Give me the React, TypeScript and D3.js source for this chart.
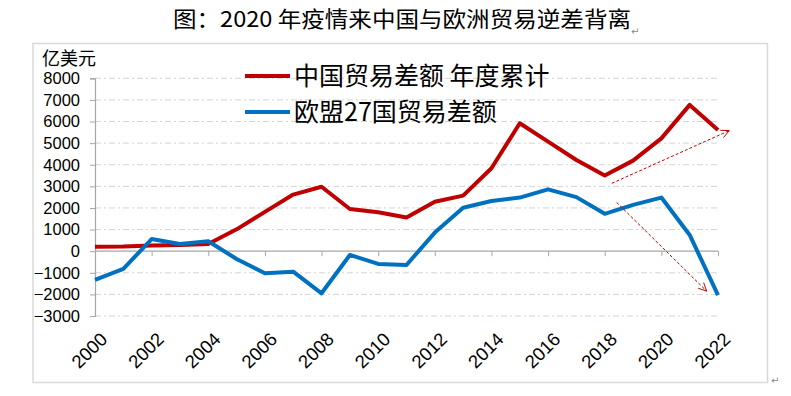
import { useEffect, useRef } from "react";
import * as d3 from "d3";

const years = d3.range(2000, 2023);
const chinaSeries = [
  210, 220, 260, 290, 330, 1010, 1820, 2620, 2980, 1950, 1800, 1560, 2290,
  2570, 3840, 5920, 5070, 4220, 3500, 4190, 5220, 6770, 5610,
];
const euSeries = [
  -1330, -820, 560, 330, 460, -360, -1020, -950, -1950, -175, -590, -640, 860,
  2010, 2320, 2480, 2860, 2500, 1730, 2140, 2480, 750, -2030,
];
const yTicks = [8000, 7000, 6000, 5000, 4000, 3000, 2000, 1000, 0, -1000, -2000, -3000];
const xTickYears = d3.range(2000, 2023, 2);
const legendNames = ["中国贸易差额 年度累计", "欧盟27国贸易差额"];
// arrows drawn in data space: [year, value] -> [year, value]
const arrows = [
  [[2018.25, 3140], [2022.4, 5580]],
  [[2018.42, 2260], [2021.6, -1850]],
];

const W = 791;
const H = 396;

export default function App() {
  const svgRef = useRef<SVGSVGElement>(null);

  useEffect(() => {
    if (!svgRef.current) return;
    const svg = d3.select(svgRef.current);
    svg.selectAll("*").remove();

    const x = d3.scaleLinear().domain([2000, 2022]).range([95, 718]);
    const y = d3.scaleLinear().domain([-3000, 8000]).range([316, 78.3]);

    svg.append("rect").attr("width", W).attr("height", H).attr("fill", "#fff");

    // title
    svg
      .append("text")
      .attr("x", 173)
      .attr("y", 27)
      .attr("textLength", 458)
      .attr("lengthAdjust", "spacingAndGlyphs")
      .style("font-family", "'Noto Sans CJK SC', sans-serif")
      .style("font-size", "22px")
      .style("fill", "#000")
      .text("图：2020 年疫情来中国与欧洲贸易逆差背离");
    svg
      .append("text")
      .attr("x", 631)
      .attr("y", 35)
      .style("font-family", "'DejaVu Sans', sans-serif")
      .style("font-size", "10px")
      .style("fill", "#888")
      .text("↵");
    svg
      .append("text")
      .attr("x", 771)
      .attr("y", 384)
      .style("font-family", "'DejaVu Sans', sans-serif")
      .style("font-size", "10px")
      .style("fill", "#888")
      .text("↵");

    // frame
    svg
      .append("rect")
      .attr("x", 33)
      .attr("y", 43.5)
      .attr("width", 734.5)
      .attr("height", 339)
      .attr("fill", "none")
      .attr("stroke", "#d9d9d9")
      .attr("stroke-width", 1.5);

    // grid
    svg
      .append("g")
      .selectAll("line")
      .data(yTicks.filter((t) => t !== 0))
      .enter()
      .append("line")
      .attr("x1", x(2000))
      .attr("x2", x(2022))
      .attr("y1", (d) => y(d))
      .attr("y2", (d) => y(d))
      .attr("stroke", "#d4d4d4")
      .attr("stroke-width", 1)
      .attr("stroke-dasharray", "6,3,2,3");

    // y axis
    const yAxis = svg
      .append("g")
      .attr("transform", `translate(${x(2000)},0)`)
      .call(d3.axisLeft(y).tickValues(yTicks).tickSize(5).tickPadding(10).tickFormat(d3.format("d")));
    yAxis.select(".domain").attr("stroke", "#a6a6a6").attr("stroke-width", 1.2);
    yAxis.selectAll(".tick line").attr("stroke", "#a6a6a6");
    yAxis
      .selectAll(".tick text")
      .style("font-family", "'Liberation Sans', Arial, sans-serif")
      .style("font-size", "16.5px")
      .style("fill", "#000");

    // x axis at zero
    const xAxis = svg
      .append("g")
      .attr("transform", `translate(0,${y(0)})`)
      .call(d3.axisBottom(x).tickValues(xTickYears).tickSize(5).tickFormat(() => ""));
    xAxis.select(".domain").attr("stroke", "#a6a6a6").attr("stroke-width", 1.2).attr("d", `M${x(2000)},0H${x(2022)}`);
    xAxis.selectAll(".tick line").attr("stroke", "#a6a6a6");

    // x labels rotated
    svg
      .append("g")
      .selectAll("text")
      .data(xTickYears)
      .enter()
      .append("text")
      .attr("transform", (d) => `translate(${x(d) + 4},${331}) rotate(-45)`)
      .attr("text-anchor", "end")
      .attr("dy", "0.72em")
      .style("font-family", "'Liberation Sans', Arial, sans-serif")
      .style("font-size", "18.5px")
      .style("fill", "#000")
      .text((d) => String(d));

    // unit label
    svg
      .append("text")
      .attr("x", 42)
      .attr("y", 65)
      .style("font-family", "'Noto Sans CJK SC', sans-serif")
      .style("font-size", "18px")
      .style("fill", "#000")
      .text("亿美元");

    const line = d3
      .line<number>()
      .x((_, i) => x(years[i]))
      .y((d) => y(d));

    const series = [
      { values: chinaSeries, color: "#c00000" },
      { values: euSeries, color: "#0070c0" },
    ];
    series.forEach((s) => {
      svg
        .append("path")
        .attr("d", line(s.values))
        .attr("fill", "none")
        .attr("stroke", s.color)
        .attr("stroke-width", 4)
        .attr("stroke-linejoin", "round");
    });

    // legend
    series.forEach((s, i) => {
      const ly = 76 + i * 36;
      svg
        .append("line")
        .attr("x1", 245)
        .attr("x2", 290)
        .attr("y1", ly)
        .attr("y2", ly)
        .attr("stroke", s.color)
        .attr("stroke-width", 4);
      svg
        .append("text")
        .attr("x", 294)
        .attr("y", ly)
        .attr("dy", "0.36em")
        .style("font-family", "'Noto Sans CJK SC', sans-serif")
        .style("font-size", "25px")
        .style("fill", "#000")
        .text(legendNames[i]);
    });

    // dashed annotation arrows
    arrows.forEach(([a, b]) => {
      const x1 = x(a[0]);
      const y1 = y(a[1]);
      const x2 = x(b[0]);
      const y2 = y(b[1]);
      svg
        .append("line")
        .attr("x1", x1)
        .attr("y1", y1)
        .attr("x2", x2)
        .attr("y2", y2)
        .attr("stroke", "#c00000")
        .attr("stroke-width", 1)
        .attr("stroke-dasharray", "3,2");
      const ang = Math.atan2(y2 - y1, x2 - x1);
      const len = 9;
      [0.45, -0.45].forEach((da) => {
        svg
          .append("line")
          .attr("x1", x2)
          .attr("y1", y2)
          .attr("x2", x2 - len * Math.cos(ang + da))
          .attr("y2", y2 - len * Math.sin(ang + da))
          .attr("stroke", "#c00000")
          .attr("stroke-width", 1);
      });
    });
  }, []);

  return (
    <svg
      ref={svgRef}
      width={W}
      height={H}
      style={{ position: "absolute", left: 0, top: 0, display: "block" }}
    />
  );
}
